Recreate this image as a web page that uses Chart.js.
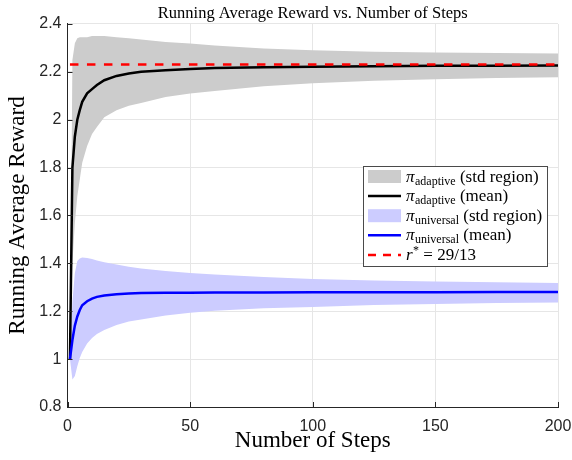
<!DOCTYPE html>
<html>
<head>
<meta charset="utf-8">
<script src="https://cdn.jsdelivr.net/npm/chart.js@4/dist/chart.umd.min.js"></script>
<style>
    html, body { margin: 0; padding: 0; background: #ffffff; }
    #wrap { width: 572px; height: 460px; }
</style>
</head>
<body>
<div id="wrap"><canvas id="rewardChart" width="572" height="460"></canvas></div>
<script>
// Pasos muestreados
const steps = [1, 2, 3, 4, 5, 6, 8, 10, 12, 15, 20, 25, 30, 40, 50, 60, 80, 100, 125, 150, 175, 200];

// pi_adaptive
const adaptiveMean  = [1.0, 1.80, 1.93, 2.00, 2.04, 2.075, 2.11, 2.128, 2.145, 2.165, 2.183, 2.193, 2.200, 2.207, 2.212, 2.216, 2.219, 2.221, 2.223, 2.225, 2.226, 2.227];
const adaptiveUpper = [1.0, 2.25, 2.32, 2.34, 2.345, 2.345, 2.345, 2.35, 2.35, 2.35, 2.345, 2.34, 2.335, 2.325, 2.318, 2.31, 2.298, 2.29, 2.284, 2.281, 2.279, 2.277];
const adaptiveLower = [1.0, 1.40, 1.57, 1.68, 1.75, 1.82, 1.89, 1.94, 1.97, 2.01, 2.04, 2.058, 2.07, 2.095, 2.11, 2.12, 2.14, 2.152, 2.163, 2.169, 2.174, 2.177];

// pi_universal
const universalMean  = [1.0, 1.08, 1.14, 1.178, 1.205, 1.225, 1.242, 1.253, 1.26, 1.266, 1.271, 1.274, 1.276, 1.277, 1.277, 1.278, 1.278, 1.279, 1.279, 1.279, 1.28, 1.28];
const universalUpper = [1.0, 1.24, 1.36, 1.41, 1.42, 1.425, 1.422, 1.418, 1.412, 1.405, 1.395, 1.386, 1.379, 1.368, 1.36, 1.354, 1.343, 1.335, 1.328, 1.324, 1.321, 1.318];
const universalLower = [1.0, 0.915, 0.93, 0.97, 1.005, 1.03, 1.065, 1.088, 1.105, 1.122, 1.143, 1.157, 1.166, 1.182, 1.194, 1.202, 1.212, 1.218, 1.226, 1.23, 1.234, 1.237];

// r* = 29/13
const rStarSteps = [1, 200];
const rStarValues = [29 / 13, 29 / 13];

// Ticks
const xTicks = [0, 50, 100, 150, 200];
const yTicks = [0.8, 1, 1.2, 1.4, 1.6, 1.8, 2, 2.2, 2.4];

const colors = {
    axis: '#262626',
    grid: '#e6e6e6',
    grayBand: '#cccccc',
    blueBand: '#ccccff',
    black: '#000000',
    blue: '#0000ff',
    red: '#ff0000'
};
const serif = '"Liberation Serif", "DejaVu Serif", serif';
const sans = '"Liberation Sans", Arial, sans-serif';

function pts(xs, ys) {
    return xs.map((x, i) => ({ x: x, y: ys[i] }));
}

function band(label, ys, color, order, fill) {
    return {
        label: label,
        data: pts(steps, ys),
        borderWidth: 0,
        borderColor: 'transparent',
        backgroundColor: color,
        pointRadius: 0,
        fill: fill,
        tension: 0,
        order: order
    };
}

function line(label, xs, ys, color, order, dash) {
    return {
        label: label,
        data: pts(xs, ys),
        borderColor: color,
        borderWidth: 2.5,
        borderDash: dash || [],
        backgroundColor: color,
        pointRadius: 0,
        fill: false,
        tension: 0,
        order: order
    };
}

// Marcas de tick hacia dentro (estilo MATLAB)
const innerTicks = {
    id: 'innerTicks',
    afterDraw(chart) {
        const c = chart.ctx;
        const x = chart.scales.x, y = chart.scales.y;
        const a = chart.chartArea;
        c.save();
        c.strokeStyle = colors.axis;
        c.lineWidth = 1;
        c.beginPath();
        yTicks.forEach(v => {
            const py = Math.round(y.getPixelForValue(v)) + 0.5;
            c.moveTo(a.left, py);
            c.lineTo(a.left + 5, py);
        });
        xTicks.forEach(v => {
            const px = Math.round(x.getPixelForValue(v)) + 0.5;
            c.moveTo(px, a.bottom);
            c.lineTo(px, a.bottom - 5);
        });
        c.stroke();
        c.restore();
    }
};

// Leyenda con subíndices
const mathLegend = {
    id: 'mathLegend',
    afterDraw(chart) {
        const c = chart.ctx;
        const box = { left: 363, top: 166, width: 184, height: 100 };
        const rows = [
            { kind: 'fill', color: colors.grayBand, sub: 'adaptive', text: ' (std region)' },
            { kind: 'line', color: colors.black, sub: 'adaptive', text: ' (mean)' },
            { kind: 'fill', color: colors.blueBand, sub: 'universal', text: ' (std region)' },
            { kind: 'line', color: colors.blue, sub: 'universal', text: ' (mean)' },
            { kind: 'dash', color: colors.red }
        ];
        c.save();
        c.fillStyle = '#ffffff';
        c.fillRect(box.left, box.top, box.width, box.height);
        c.strokeStyle = '#4a4a4a';
        c.lineWidth = 1;
        c.strokeRect(box.left + 0.5, box.top + 0.5, box.width, box.height);

        const sx0 = box.left + 5, sx1 = box.left + 38, tx = box.left + 43;
        rows.forEach((r, i) => {
            const cy = box.top + 10.5 + i * 19.6;
            if (r.kind === 'fill') {
                c.fillStyle = r.color;
                c.fillRect(sx0, cy - 6.5, sx1 - sx0, 13);
            } else {
                c.strokeStyle = r.color;
                c.lineWidth = 2.5;
                c.setLineDash(r.kind === 'dash' ? [8, 7] : []);
                c.beginPath();
                c.moveTo(sx0, cy);
                c.lineTo(sx1, cy);
                c.stroke();
                c.setLineDash([]);
            }
            c.fillStyle = '#000000';
            c.textBaseline = 'alphabetic';
            let x = tx;
            const base = cy + 5;
            if (r.kind !== 'dash') {
                c.font = 'italic 17px ' + serif;
                c.fillText('π', x, base);
                x += c.measureText('π').width + 0.5;
                c.font = '12px ' + serif;
                c.fillText(r.sub, x, base + 3);
                x += c.measureText(r.sub).width;
                c.font = '17px ' + serif;
                c.fillText(r.text, x, base);
            } else {
                c.font = 'italic 17px ' + serif;
                c.fillText('r', x, base);
                x += c.measureText('r').width + 0.5;
                c.font = '12px ' + serif;
                c.fillText('*', x, base - 6);
                x += c.measureText('*').width;
                c.font = '17px ' + serif;
                c.fillText(' = 29/13', x, base);
            }
        });
        c.restore();
    }
};

const ctx = document.getElementById('rewardChart').getContext('2d');
const rewardChart = new Chart(ctx, {
    type: 'line',
    data: {
        datasets: [
            band('adaptive upper', adaptiveUpper, colors.grayBand, 10, '+1'),
            band('adaptive lower', adaptiveLower, colors.grayBand, 9, false),
            band('universal upper', universalUpper, colors.blueBand, 8, '+1'),
            band('universal lower', universalLower, colors.blueBand, 7, false),
            line('adaptive mean', steps, adaptiveMean, colors.black, 4),
            line('universal mean', steps, universalMean, colors.blue, 3),
            line('r*', rStarSteps, rStarValues, colors.red, 1, [8.5, 8.5])
        ]
    },
    options: {
        responsive: false,
        animation: false,
        devicePixelRatio: 1,
        layout: { padding: { left: 0, right: 14, top: 0, bottom: 0 } },
        plugins: {
            legend: { display: false },
            tooltip: { enabled: false },
            title: {
                display: true,
                fullSize: false,
                text: 'Running Average Reward vs. Number of Steps',
                color: '#000000',
                font: { family: serif, size: 16.5, weight: 'normal', lineHeight: 1.15 },
                padding: { top: 4.5, bottom: 0.5 }
            }
        },
        scales: {
            x: {
                type: 'linear',
                min: 0,
                max: 200,
                afterBuildTicks: s => { s.ticks = xTicks.map(v => ({ value: v })); },
                afterFit: s => { s.height = 53; s.paddingLeft = 0; s.paddingRight = 0; },
                grid: { color: colors.grid, drawTicks: false, lineWidth: 1 },
                border: { display: true, color: colors.axis, width: 1 },
                ticks: { color: colors.axis, font: { family: sans, size: 16 }, padding: 10, maxRotation: 0,
                         callback: v => String(v) },
                title: {
                    display: true,
                    text: 'Number of Steps',
                    color: '#000000',
                    font: { family: serif, size: 23, lineHeight: 1.1 },
                    padding: { top: 0, bottom: 6 }
                }
            },
            y: {
                type: 'linear',
                min: 0.8,
                max: 2.4,
                afterBuildTicks: s => { s.ticks = yTicks.map(v => ({ value: v })); },
                afterFit: s => { s.width = 67.5; s.paddingTop = 0; s.paddingBottom = 0; },
                grid: { color: colors.grid, drawTicks: false, lineWidth: 1 },
                border: { display: true, color: colors.axis, width: 1 },
                ticks: { color: colors.axis, font: { family: sans, size: 16 }, padding: 6,
                         callback: v => String(v) },
                title: {
                    display: true,
                    text: 'Running Average Reward',
                    color: '#000000',
                    font: { family: serif, size: 23, lineHeight: 1.1 },
                    padding: { top: 5, bottom: 0 }
                }
            }
        }
    },
    plugins: [innerTicks, mathLegend]
});
</script>
</body>
</html>
